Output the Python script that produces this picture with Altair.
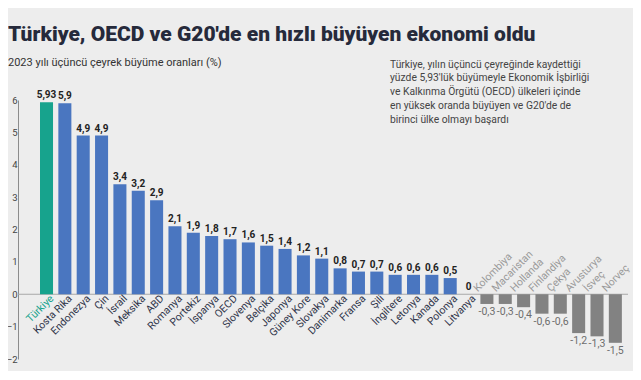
import altair as alt
import pandas as pd

countries = ["Türkiye", "Kosta Rika", "Endonezya", "Çin", "İsrail", "Meksika", "ABD",
             "Romanya", "Portekiz", "İspanya", "OECD", "Slovenya", "Belçika", "Japonya",
             "Güney Kore", "Slovakya", "Danimarka", "Fransa", "Şili", "İngiltere",
             "Letonya", "Kanada", "Polonya", "Litvanya", "Kolombiya", "Macaristan",
             "Hollanda", "Finlandiya", "Çekya", "Avusturya", "İsveç", "Norveç"]
values = [5.93, 5.9, 4.9, 4.9, 3.4, 3.2, 2.9, 2.1, 1.9, 1.8, 1.7, 1.6, 1.5, 1.4,
          1.2, 1.1, 0.8, 0.7, 0.7, 0.6, 0.6, 0.6, 0.5, 0.0, -0.3, -0.3, -0.4, -0.6,
          -0.6, -1.2, -1.3, -1.5]
y_ticks = [-2, -1, 0, 1, 2, 3, 4, 5, 6]

title_text = "Türkiye, OECD ve G20'de en hızlı büyüyen ekonomi oldu"
subtitle_text = "2023 yılı üçüncü çeyrek büyüme oranları (%)"
note_lines = ["Türkiye, yılın üçüncü çeyreğinde kaydettiği",
              "yüzde 5,93'lük büyümeyle Ekonomik İşbirliği",
              "ve Kalkınma Örgütü (OECD) ülkeleri içinde",
              "en yüksek oranda büyüyen ve G20'de de",
              "birinci ülke olmayı başardı"]

TEAL = "#17a38d"
BLUE = "#4a76c0"
GREY = "#828282"

def grp(c, v):
    if c == "Türkiye":
        return "tr"
    return "neg" if v < 0 else "pos"

df = pd.DataFrame({
    "country": countries,
    "value": values,
    "label": [("%g" % v).replace(".", ",") for v in values],
    "grp": [grp(c, v) for c, v in zip(countries, values)],
    "z": [0] * len(values),
})
df["color"] = df["grp"].map({"tr": TEAL, "pos": BLUE, "neg": GREY})
df["lcolor"] = df["grp"].map({"tr": TEAL, "pos": "#30354a", "neg": "#9a9a9a"})

FONT = "Roboto"
xs = alt.Scale(domain=countries, paddingInner=0.29, paddingOuter=0.7665, align=0.782)
ys = alt.Scale(domain=[-2, 6], nice=False, zero=False)
X = alt.X("country:N", scale=xs, axis=None, sort=countries)

y_axis = alt.Axis(values=y_ticks, grid=False, ticks=False, labelPadding=1,
                  labelFontSize=9.5, labelColor="#444444", labelFont=FONT,
                  labelOverlap=False, labelBound=False,
                  domainColor="#8c8c8c", domainWidth=1)

def Y(field):
    return alt.Y(field, scale=ys, title=None, axis=y_axis)

base = alt.Chart(df)

zero = alt.Chart(pd.DataFrame({"z": [0]})).mark_rule(color="#a8a8a8", strokeWidth=1).encode(
    y=Y("z:Q")
)

bars = base.mark_bar().encode(
    x=X,
    y=Y("value:Q"),
    y2=alt.Y2(datum=0),
    color=alt.Color("color:N", scale=None),
)

pos_vals = base.transform_filter("datum.value >= 0").mark_text(
    baseline="bottom", dy=-2, fontSize=10, fontWeight="bold", color="#222222", font=FONT
).encode(x=X, y=Y("value:Q"), text="label:N")

neg_vals = base.transform_filter("datum.value < 0").mark_text(
    baseline="top", dy=3, fontSize=10.5, color="#6e6e6e", font=FONT
).encode(x=X, y=Y("value:Q"), text="label:N")

pos_names = base.transform_filter("datum.value >= 0").mark_text(
    align="right", baseline="middle", angle=315, dx=2, dy=6, fontSize=10.5, font=FONT
).encode(x=X, y=Y("z:Q"), text="country:N",
         color=alt.Color("lcolor:N", scale=None))

neg_names = base.transform_filter("datum.value < 0").mark_text(
    align="left", baseline="middle", angle=315, dx=-5, dy=-11, fontSize=10.5, font=FONT
).encode(x=X, y=Y("z:Q"), text="country:N",
         color=alt.Color("lcolor:N", scale=None))

one = pd.DataFrame({"a": [0]})
title = alt.Chart(one).mark_text(
    align="left", baseline="alphabetic", fontSize=21, fontWeight=900,
    color="#262a3b", font=FONT
).encode(x=alt.value(-10), y=alt.value(-59), text=alt.value(title_text))

subtitle = alt.Chart(one).mark_text(
    align="left", baseline="middle", fontSize=11, color="#333333", font=FONT
).encode(x=alt.value(-10), y=alt.value(-37), text=alt.value(subtitle_text))

note = alt.Chart(one).mark_text(
    align="left", baseline="middle", fontSize=10.3, color="#444444", font=FONT,
    lineHeight=13.8
).encode(x=alt.value(372), y=alt.value(-35.5), text=alt.value(note_lines))

chart = alt.layer(
    zero, bars, pos_vals, neg_vals, pos_names, neg_names, title, subtitle, note
).properties(
    width=610, height=259,
    autosize=alt.AutoSizeParams(type="none"),
    padding={"left": 10, "top": 92, "right": 5, "bottom": 12},
    background="#ededed",
).configure_view(stroke=None)

chart.save("out.html", embed_options={"renderer": "svg", "actions": False})
